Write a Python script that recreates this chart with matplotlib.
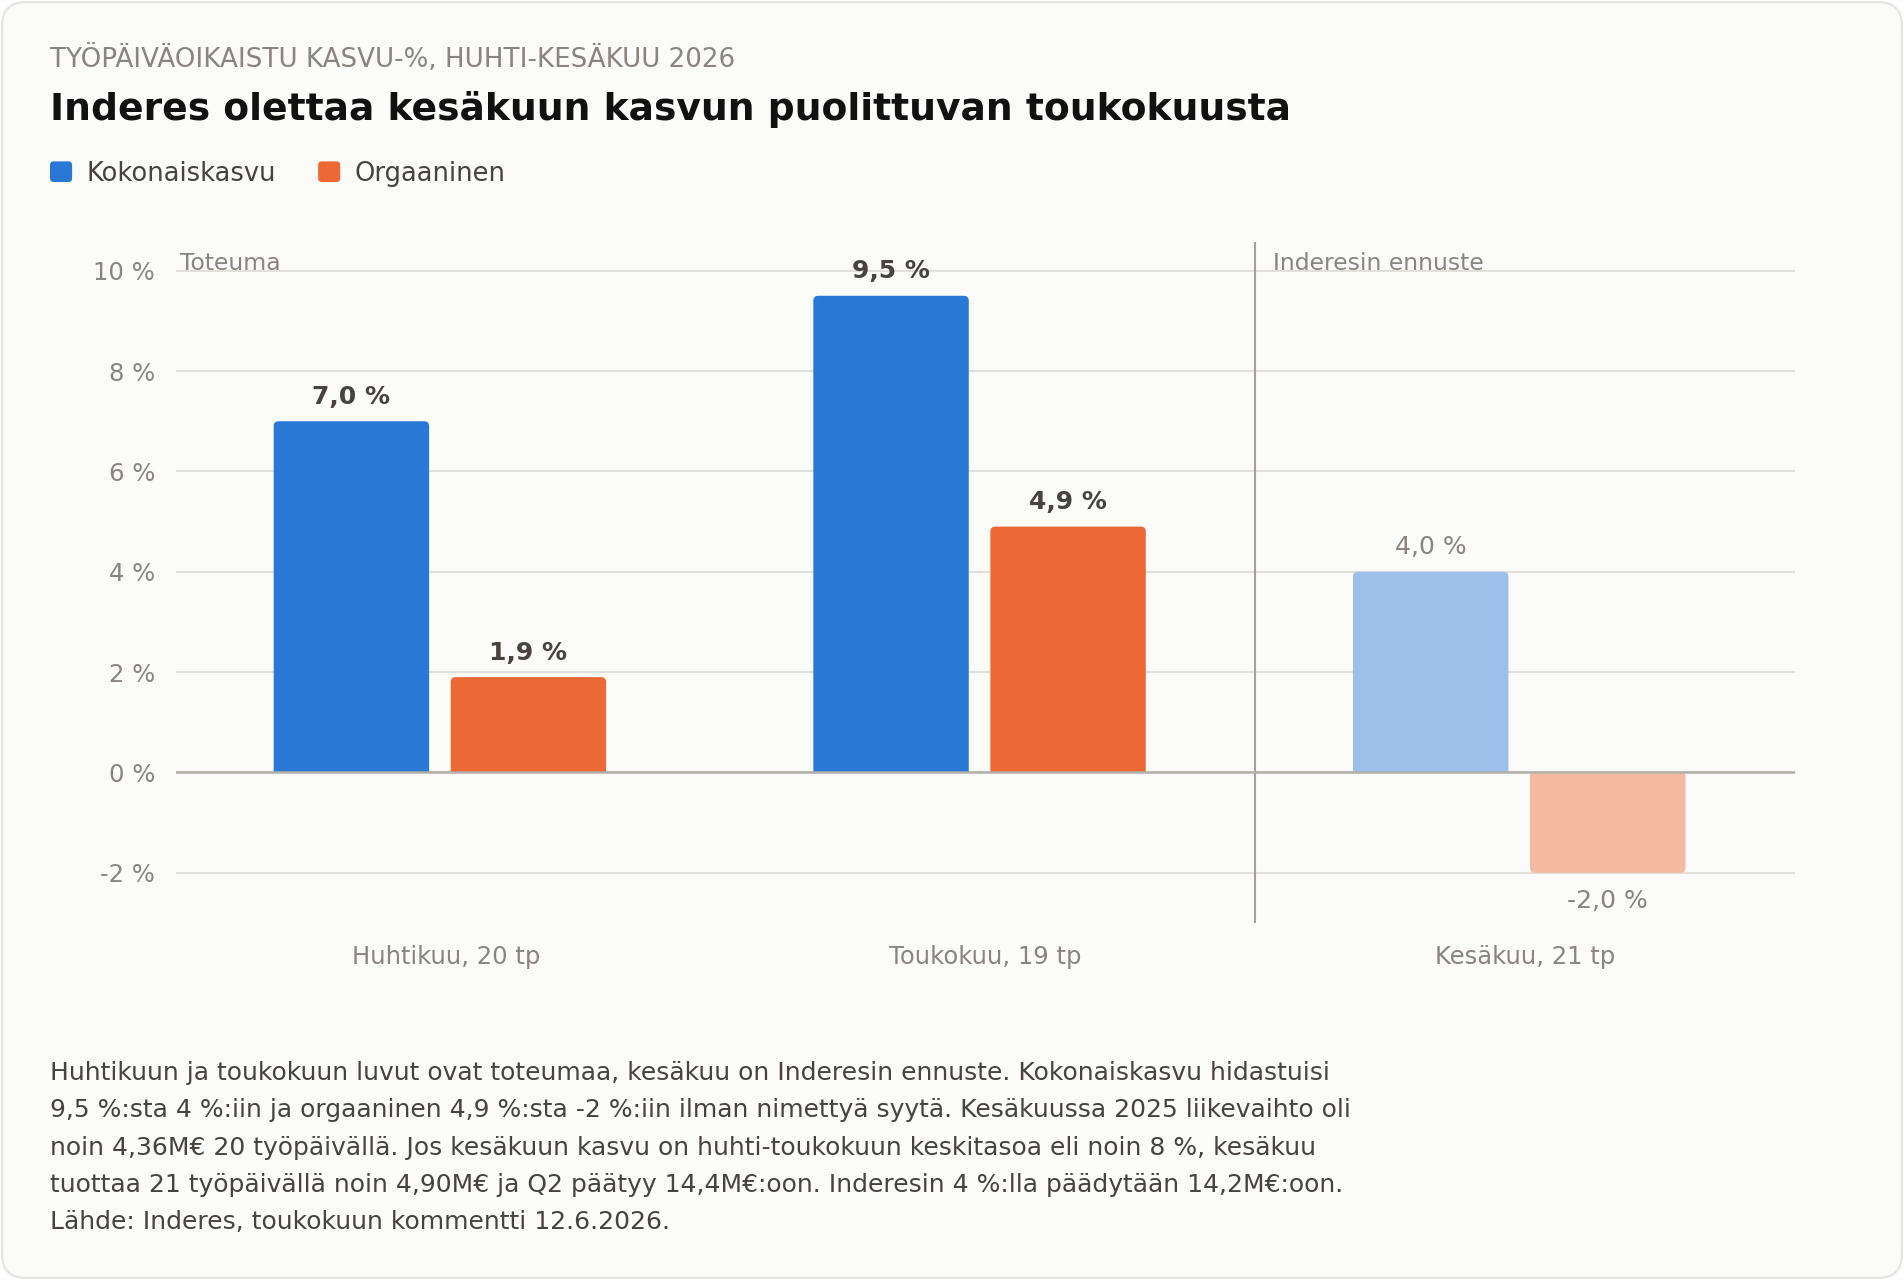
import matplotlib
matplotlib.use("Agg")
import matplotlib.pyplot as plt
from matplotlib.patches import FancyBboxPatch, PathPatch, Patch
from matplotlib.legend_handler import HandlerPatch
from matplotlib.path import Path
import numpy as np

# ---- data ----
categories = ["Huhtikuu, 20 tp", "Toukokuu, 19 tp", "Kesäkuu, 21 tp"]
series_names = ["Kokonaiskasvu", "Orgaaninen"]
kokonaiskasvu = [7.0, 9.5, 4.0]
orgaaninen = [1.9, 4.9, -2.0]
is_forecast = [False, False, True]
yticks = [-2, 0, 2, 4, 6, 8, 10]
subtitle = "TYÖPÄIVÄOIKAISTU KASVU-%, HUHTI-KESÄKUU 2026"
title = "Inderes olettaa kesäkuun kasvun puolittuvan toukokuusta"
footnote_lines = [
    "Huhtikuun ja toukokuun luvut ovat toteumaa, kesäkuu on Inderesin ennuste. Kokonaiskasvu hidastuisi",
    "9,5 %:sta 4 %:iin ja orgaaninen 4,9 %:sta -2 %:iin ilman nimettyä syytä. Kesäkuussa 2025 liikevaihto oli",
    "noin 4,36M€ 20 työpäivällä. Jos kesäkuun kasvu on huhti-toukokuun keskitasoa eli noin 8 %, kesäkuu",
    "tuottaa 21 työpäivällä noin 4,90M€ ja Q2 päätyy 14,4M€:oon. Inderesin 4 %:lla päädytään 14,2M€:oon.",
    "Lähde: Inderes, toukokuun kommentti 12.6.2026.",
]
actual_label = "Toteuma"
forecast_label = "Inderesin ennuste"

# ---- style ----
plt.rcParams["font.family"] = ["DejaVu Sans"]
BLUE = "#2a78d6"
ORANGE = "#ec6935"
CARD = "#fbfbfa"
def mix(c, a, bg=CARD):
    c = np.array(matplotlib.colors.to_rgb(c)); b = np.array(matplotlib.colors.to_rgb(bg))
    return tuple(c * a + b * (1 - a))
BLUE_L = mix(BLUE, 0.45)
ORANGE_L = mix(ORANGE, 0.45)
GREY_TXT = "#8a8580"
DARK_TXT = "#47433f"

W, H = 1904, 1280
fig = plt.figure(figsize=(W / 100, H / 100), dpi=100, facecolor="white")

# card
card = FancyBboxPatch((2 / W, 2 / H), 1 - 4 / W, 1 - 4 / H,
                      boxstyle="round,pad=0,rounding_size=%f" % (24 / W),
                      mutation_aspect=W / H, transform=fig.transFigure,
                      facecolor=CARD, edgecolor="#e3e3e1", linewidth=1.5, zorder=-10)
fig.patches.append(card)

L = 50 / W
fig.text(L, 1 - 59.5 / H, subtitle, fontsize=18.8, color=GREY_TXT, va="center", ha="left")
fig.text(L, 1 - 109.5 / H, title, fontsize=27.1, fontweight="bold", color="#111111", va="center", ha="left")

ax_l, ax_r, ax_t, ax_b = 176, 1795, 241.6, 923
ax = fig.add_axes([ax_l / W, 1 - ax_b / H, (ax_r - ax_l) / W, (ax_b - ax_t) / H])
ax.set_facecolor("none")
ax.set_xlim(-0.5, len(categories) - 0.5)
ax.set_ylim(-3.0, 10.58)
for s in ax.spines.values():
    s.set_visible(False)

x = np.arange(len(categories))
bw = 0.288
off = 0.164
shift = -0.011
px_x = (ax_r - ax_l) / 3.0
px_y = (ax_b - ax_t) / (10.58 + 3.0)
rx = 5 / px_x
ry = 5 / px_y

def rounded_end(rect, col):
    x0 = rect.get_x(); x1 = x0 + rect.get_width()
    y0 = rect.get_y(); h = rect.get_height()
    y1 = y0 + h
    s = 1 if h >= 0 else -1
    verts = [(x0, y0), (x0, y1 - s * ry), (x0, y1), (x0 + rx, y1),
             (x1 - rx, y1), (x1, y1), (x1, y1 - s * ry), (x1, y0), (x0, y0)]
    codes = [Path.MOVETO, Path.LINETO, Path.CURVE3, Path.CURVE3,
             Path.LINETO, Path.CURVE3, Path.CURVE3, Path.LINETO, Path.CLOSEPOLY]
    ax.add_patch(PathPatch(Path(verts, codes), facecolor=col, edgecolor="none", zorder=2))
    rect.set_visible(False)

b1 = ax.bar(x - off + shift, kokonaiskasvu, bw, color=BLUE, zorder=2, label=series_names[0])
b2 = ax.bar(x + off + shift, orgaaninen, bw, color=ORANGE, zorder=2, label=series_names[1])
for cont, base, light in ((b1, BLUE, BLUE_L), (b2, ORANGE, ORANGE_L)):
    for rect, fc in zip(cont.patches, is_forecast):
        rounded_end(rect, light if fc else base)

for cont, vals in ((b1, kokonaiskasvu), (b2, orgaaninen)):
    for rect, v, fc in zip(cont.patches, vals, is_forecast):
        xpos = rect.get_x() + rect.get_width() / 2
        dy = 17.5 if v >= 0 else -20
        ax.annotate(f"{v:.1f} %".replace(".", ","), (xpos, v), xytext=(0, dy),
                    textcoords="offset points", ha="center", va="center", fontsize=18,
                    fontweight="normal" if fc else "bold",
                    color=GREY_TXT if fc else DARK_TXT, zorder=4)

# grid
ax.set_yticks(yticks)
ax.set_yticklabels([f"{t} %" for t in yticks])
ax.yaxis.grid(True, color="#e2e0db", linewidth=1.5, zorder=0)
ax.set_axisbelow(True)
ax.axhline(0, color="#b3b0aa", linewidth=1.8, zorder=3)
ax.set_xticks(x)
ax.set_xticklabels(categories)
ax.tick_params(axis="both", length=0, labelcolor=GREY_TXT, labelsize=17.5)
ax.tick_params(axis="y", pad=15)
ax.tick_params(axis="x", pad=16)

# separator
ax.axvline(1.5, color="#a5a29e", linewidth=1.5, zorder=1)
ax.annotate(actual_label, (-0.5, 10), xytext=(4, 1), textcoords="offset pixels",
            ha="left", va="baseline", fontsize=16.9, color=GREY_TXT)
ax.annotate(forecast_label, (1.5, 10), xytext=(18, 1), textcoords="offset pixels",
            ha="left", va="baseline", fontsize=16.9, color=GREY_TXT)

# legend with rounded square handles
def rounded_handle(legend, orig_handle, xdescent, ydescent, width, height, fontsize):
    return FancyBboxPatch((-xdescent, -ydescent), width, height,
                          boxstyle="round,pad=0,rounding_size=%f" % (0.18 * height))
handles = [Patch(facecolor=BLUE, edgecolor="none"), Patch(facecolor=ORANGE, edgecolor="none")]
fig.legend(handles=handles, labels=series_names, loc="center left",
           bbox_to_anchor=(L, 1 - 173.6 / H), frameon=False, ncol=2, fontsize=18.5,
           handlelength=0.86, handleheight=0.86, handletextpad=0.55, columnspacing=1.65,
           borderpad=0, borderaxespad=0, labelcolor="#47433f",
           handler_map={Patch: HandlerPatch(patch_func=rounded_handle)})

# footnote
y0 = 1073
for i, line in enumerate(footnote_lines):
    fig.text(L, 1 - (y0 + i * 37.3) / H, line, fontsize=18, color=DARK_TXT, va="center", ha="left")

fig.savefig("out.png", dpi=100, facecolor="white")
